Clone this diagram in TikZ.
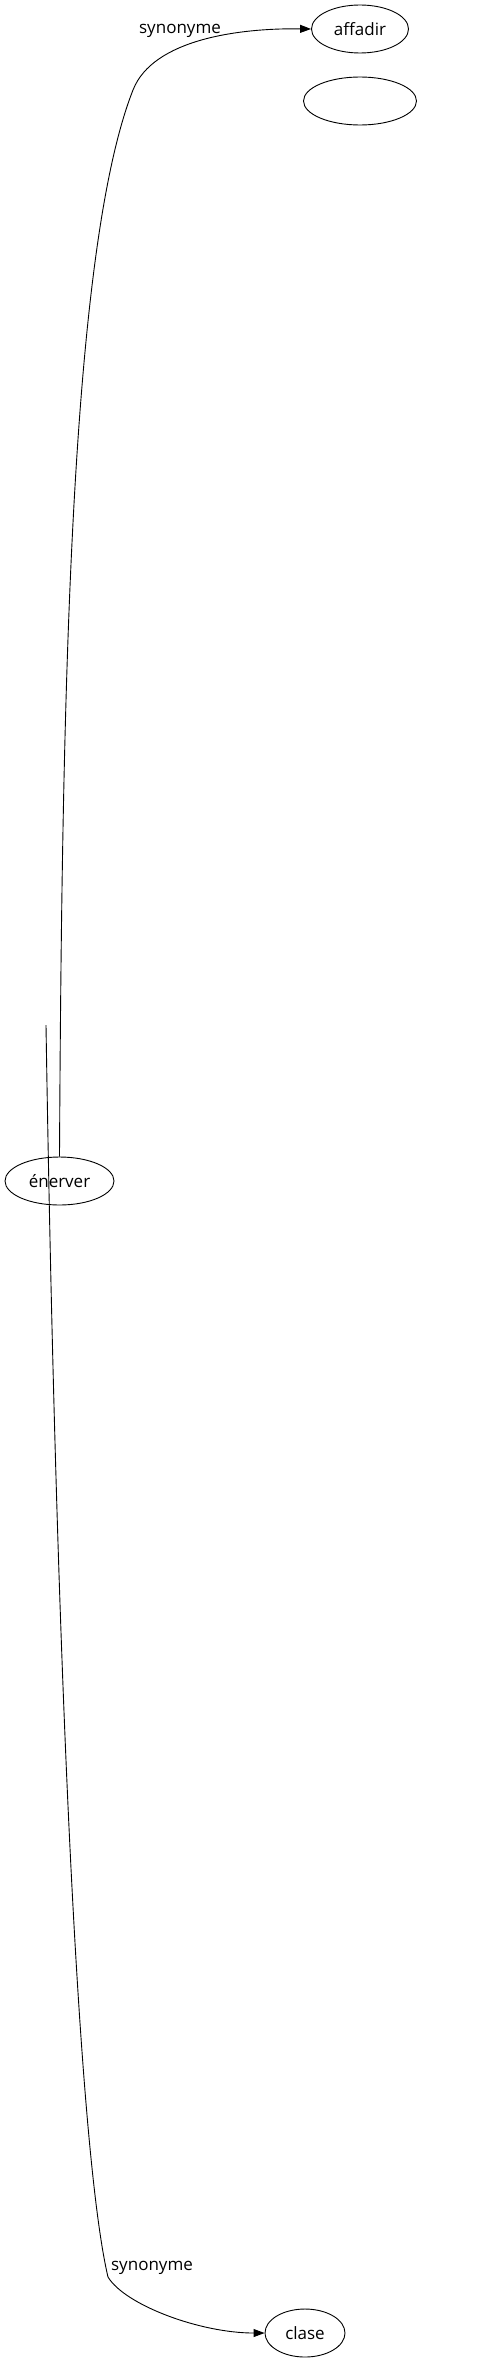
\documentclass[tikz,border=0pt]{standalone}
\usepackage{fontspec}
\setmainfont{Open Sans}
\usetikzlibrary{shapes.geometric,arrows.meta}
\begin{document}
\begin{tikzpicture}[x=1pt,y=-1pt]
    \tikzstyle{word} = [ellipse, minimum height=48pt, inner sep=0pt, text centered, draw=black, line width=0.9pt, font=\fontsize{17}{20}\selectfont]
    \tikzstyle{rel} = [font=\fontsize{17}{20}\selectfont, inner sep=0pt]
    \tikzstyle{arrow} = [line width=0.9pt, -{Triangle[length=11pt,width=8pt]}]
    \useasboundingbox (0,0) rectangle (487,2363);
    \node (affadir) [word, minimum width=97pt] at (360, 29) {affadir};
    \node (blank) [word, minimum width=113pt] at (360, 101) {};
    \node (enerver) [word, minimum width=109pt] at (59.5, 1181) {énerver};
    \node (clase) [word, minimum width=80pt] at (305, 2333) {clase};
    \node (lab1) [rel] at (180, 31) {synonyme};
    \node (lab2) [rel] at (152, 2268) {synonyme};
    \coordinate (cut) at (46, 1025);
    \draw[arrow] (enerver.north) .. controls (62, 700) and (70, 250) .. (133, 90)
        .. controls (153, 39) and (240, 28) .. (affadir.west);
    \draw[arrow] (cut) .. controls (56, 1650) and (78, 2150) .. (108, 2277)
        .. controls (125, 2305) and (200, 2333) .. (clase.west);
  \end{tikzpicture}
\end{document}
